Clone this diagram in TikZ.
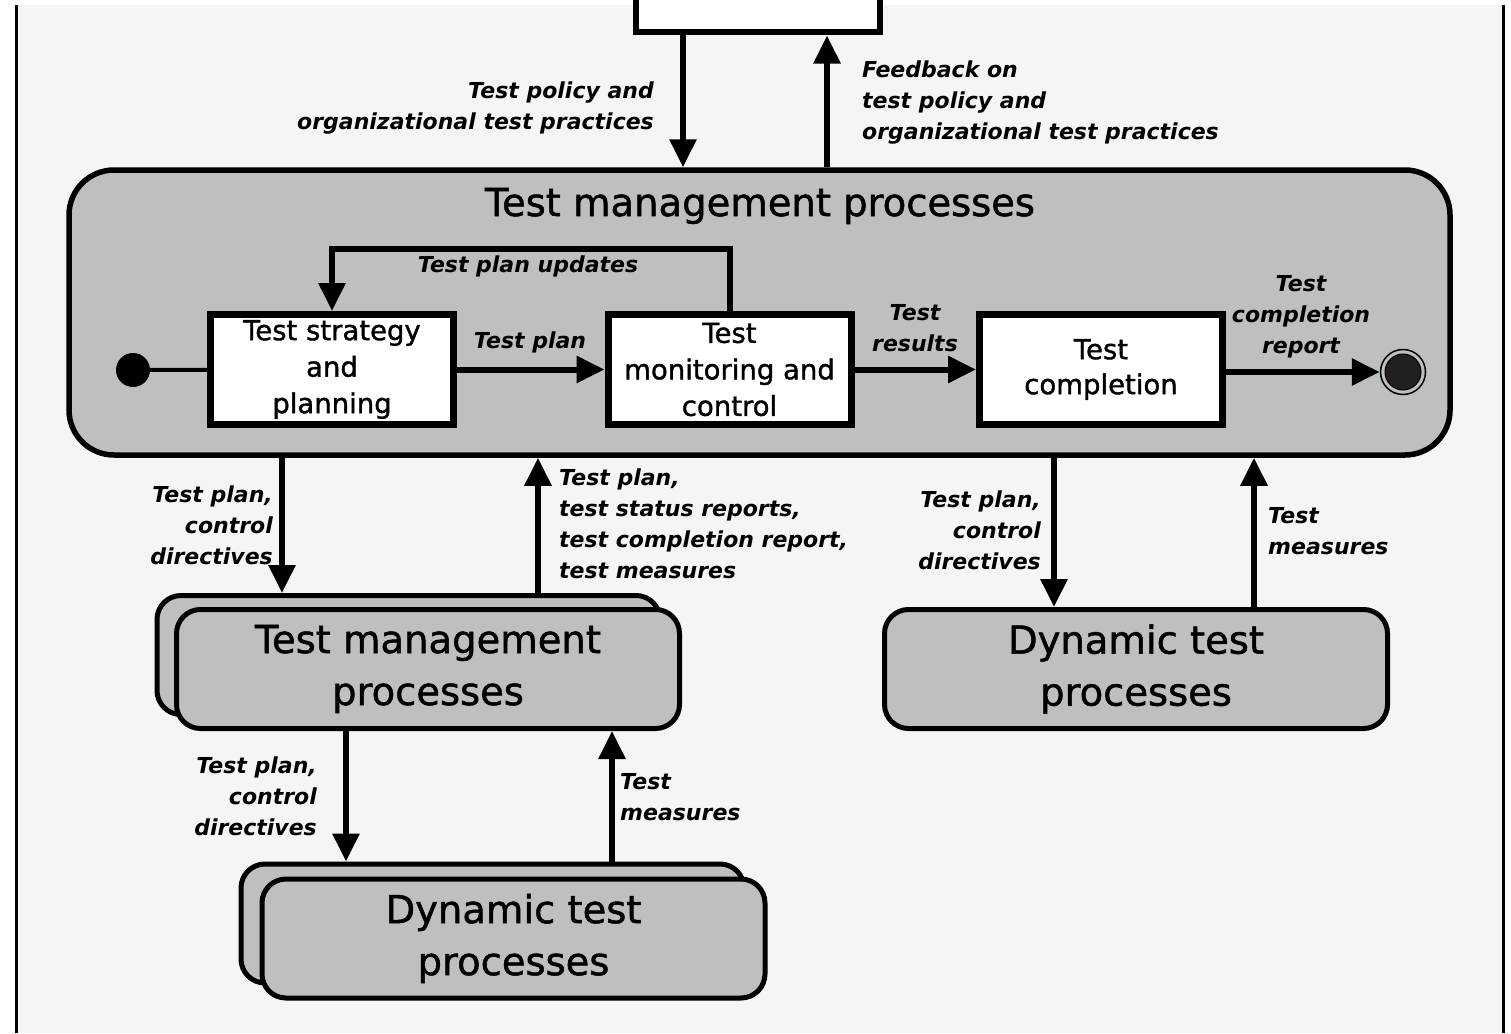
\documentclass[tikz,border=0pt]{standalone}
\usepackage{fontspec}
\setmainfont{DejaVu Sans}
\newfontfamily\heavyfont[FakeBold=1.3]{DejaVu Sans}
\usepackage{tikz}
\usetikzlibrary{arrows.meta}
\tikzset{>={Triangle[length=28pt,width=26pt]}}
\definecolor{procgray}{HTML}{BFBFBF}
\definecolor{pagegray}{HTML}{F4F5F7}
\definecolor{dotdark}{HTML}{231F20}

\begin{document}
\begin{tikzpicture}[x=1pt,y=-1pt,
		lbl/.style={font=\fontsize{22}{31}\selectfont\bfseries\itshape,inner sep=0pt},
		state/.style={draw,fill=white,line width=7pt,minimum width=243pt,minimum height=110pt,inner sep=0pt,align=center,font=\heavyfont\fontsize{27.5}{36.5}\selectfont},
		proc/.style={draw,fill=procgray,line width=5pt,rounded corners=24pt,minimum width=503pt,minimum height=119pt,inner sep=0pt,align=center,font=\heavyfont\fontsize{38.5}{52}\selectfont},
		flow/.style={->,line width=6pt}]
		\useasboundingbox (0,0) rectangle (1511,1033);
		\clip (0,0) rectangle (1511,1033);
		\fill[white] (0,0) rectangle (1511,1033);
		\fill[pagegray] (17,5) rectangle (1503,1033);
		\draw[line width=3pt] (16.5,5) -- (16.5,1033);
		\draw[line width=3pt] (1503.5,5) -- (1503.5,1033);
		\node[draw,fill=white,line width=6pt,minimum width=244pt,minimum height=60pt] (org) at (758,2.5) {};
		\node[draw,fill=procgray,line width=5.5pt,rounded corners=45pt,minimum width=1381pt,minimum height=285pt] (tmp) at (759.5,312.5) {};
		\node[font=\heavyfont\fontsize{38.5}{46}\selectfont,inner sep=0pt] (title) at (760,206) {Test management processes};
		\draw[flow] ([xshift=-75pt]org.south) -- ([xshift=-75pt]org.south |- tmp.north);
		\draw[flow] ([xshift=69pt]org.south |- tmp.north) -- ([xshift=69pt]org.south);
		\node[lbl,align=right,anchor=east] (policy) at (654,108) {Test policy and\\organizational test practices};
		\node[lbl,align=left,anchor=west] (feedback) at (862,103) {Feedback on\\test policy and\\organizational test practices};
		\node[state] (strat) at (332,369.5) {Test strategy\\and\\planning};
		\node[state] (mon) at (729.5,369.5) {Test\\monitoring and\\control};
		\node[state,font=\heavyfont\fontsize{27.5}{35}\selectfont] (comp) at (1101,369.5) {Test\\completion};
		\node[circle,fill=black,minimum size=34pt,inner sep=0pt] (start) at (133,370) {};
		\node[circle,draw,line width=1.5pt,fill=procgray,minimum size=45pt,inner sep=0pt] (stop) at (1403,372) {};
		\node[circle,draw,line width=1pt,fill=dotdark,minimum size=36pt,inner sep=0pt] (stopdot) at (stop) {};
		\draw[line width=4pt] (start) -- (strat);
		\draw[flow] (strat) -- (mon);
		\draw[flow] (mon) -- (comp);
		\draw[flow] (comp.east |- stop) -- (stop);
		\draw[flow] (mon.north) -- ++(0,-62) -| (strat.north);
		\node[lbl] (updates) at (528,266) {Test plan updates};
		\node[lbl] (plan) at (530,342) {Test plan};
		\node[lbl,align=center] (results) at (915,328) {Test\\results};
		\node[lbl,align=center] (report) at (1301,317) {Test\\completion\\report};
		\node[proc] (tmpback) at (408.5,655) {};
		\node[proc] (tmpsub) at (428,669) {Test management\\processes};
		\node[proc] (dyn) at (1136,669) {Dynamic test\\processes};
		\node[proc] (dynback) at (492.5,923.5) {};
		\node[proc] (dynsub) at (513.5,938.5) {Dynamic test\\processes};
		\draw[flow] ([xshift=-126.5pt]tmpback.north |- tmp.south) -- ([xshift=-126.5pt]tmpback.north);
		\draw[flow] ([xshift=129.5pt]tmpback.north) -- ([xshift=129.5pt]tmpback.north |- tmp.south);
		\draw[flow] ([xshift=-82pt]dyn.north |- tmp.south) -- ([xshift=-82pt]dyn.north);
		\draw[flow] ([xshift=118pt]dyn.north) -- ([xshift=118pt]dyn.north |- tmp.south);
		\draw[flow] ([xshift=-146.5pt]dynback.north |- tmpsub.south) -- ([xshift=-146.5pt]dynback.north);
		\draw[flow] ([xshift=119.5pt]dynback.north) -- ([xshift=119.5pt]dynback.north |- tmpsub.south);
		\node[lbl,align=right,anchor=east] (down1) at (273,525) {Test plan,\\control\\directives};
		\node[lbl,align=left,anchor=west] (up1) at (559,523.5) {Test plan,\\test status reports,\\test completion report,\\test measures};
		\node[lbl,align=right,anchor=east] (down2) at (1041,530) {Test plan,\\control\\directives};
		\node[lbl,align=left,anchor=west] (up2) at (1268,531.5) {Test\\measures};
		\node[lbl,align=right,anchor=east] (down3) at (317,796) {Test plan,\\control\\directives};
		\node[lbl,align=left,anchor=west] (up3) at (620,797.5) {Test\\measures};
	\end{tikzpicture}
\end{document}
